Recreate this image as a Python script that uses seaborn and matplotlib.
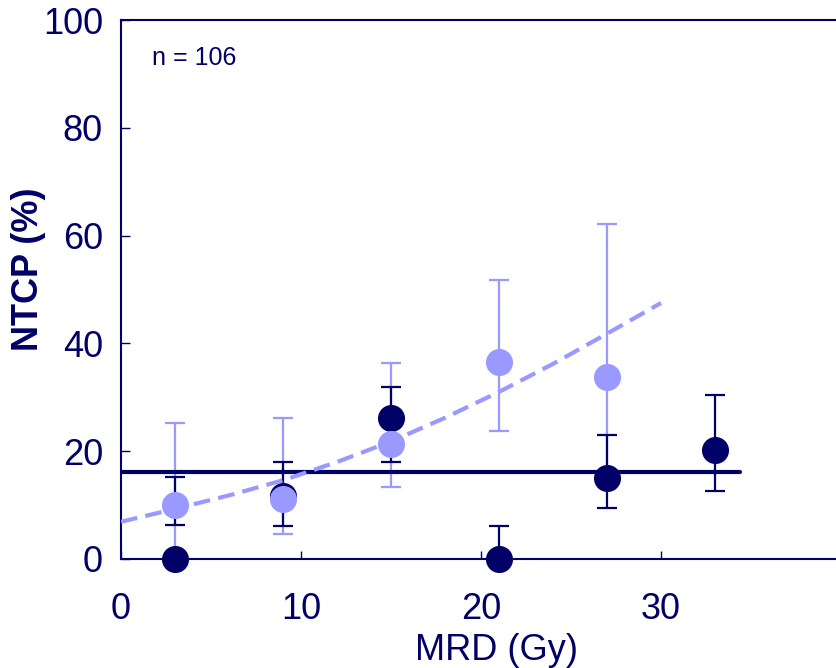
import matplotlib
matplotlib.use("Agg")
import matplotlib.pyplot as plt
import seaborn as sns
import pandas as pd
import numpy as np

# ---- data ----
dark_x = [3, 9, 15, 21, 27, 33]
dark_y = [0.0, 11.6, 26.1, 0.0, 15.0, 20.3]
dark_lo = [6.3, 6.2, 18.0, 0.0, 9.5, 12.7]
dark_hi = [15.3, 18.0, 32.0, 6.2, 23.0, 30.5]

light_x = [3, 9, 15, 21, 27]
light_y = [10.0, 11.1, 21.3, 36.6, 33.8]
light_lo = [1.0, 4.6, 13.4, 23.8, 15.0]
light_hi = [25.2, 26.1, 36.4, 51.8, 62.1]

curve_x = [0, 3, 6, 9, 12, 15, 18, 21, 24, 27, 30]
curve_y = [6.9, 9.3, 11.8, 14.6, 18.0, 21.8, 26.2, 31.0, 36.2, 41.8, 47.5]

flat_x = [0, 34.4]
flat_y = [16.1, 16.1]

x_ticks = [0, 10, 20, 30]
y_ticks = [0, 20, 40, 60, 80, 100]
annotation = "n = 106"
x_label = "MRD (Gy)"
y_label = "NTCP (%)"

DARK = "#000066"
LIGHT = "#9999FF"

sns.set_style("white")
plt.rcParams["font.family"] = ["Liberation Sans", "DejaVu Sans"]

fig = plt.figure(figsize=(8.37, 6.68), dpi=100)
ax = fig.add_axes([121 / 837, (668 - 559) / 668, 720 / 837, 539 / 668])

def draw_err(xs, lo, hi, color, z):
    mid = [(a + b) / 2 for a, b in zip(lo, hi)]
    half = [(b - a) / 2 for a, b in zip(lo, hi)]
    ax.errorbar(xs, mid, yerr=half, fmt="none", ecolor=color, elinewidth=1.6,
                capsize=7, capthick=1.6, zorder=z, clip_on=False)

draw_err(light_x, light_lo, light_hi, LIGHT, 2)
draw_err(dark_x, dark_lo, dark_hi, DARK, 3)

flat_df = pd.DataFrame({"x": flat_x, "y": flat_y})
sns.lineplot(data=flat_df, x="x", y="y", ax=ax, color=DARK, linewidth=3.0, zorder=3.5)

dark_df = pd.DataFrame({"x": dark_x, "y": dark_y})
light_df = pd.DataFrame({"x": light_x, "y": light_y})
sns.scatterplot(data=dark_df, x="x", y="y", ax=ax, color=DARK, s=380, linewidth=0,
                zorder=4, clip_on=False)
sns.scatterplot(data=light_df, x="x", y="y", ax=ax, color=LIGHT, s=380, linewidth=0,
                zorder=5, clip_on=False)

curve_df = pd.DataFrame({"x": curve_x, "y": curve_y})
sns.lineplot(data=curve_df, x="x", y="y", ax=ax, color=LIGHT, linewidth=3.0,
             dashes=False, zorder=6)
ax.lines[-1].set_dashes((4, 2))

ax.set_xlim(0, 40)
ax.set_ylim(0, 100)
ax.set_xticks(x_ticks)
ax.set_yticks(y_ticks)
ax.set_xlabel("")
ax.set_ylabel("")

for s in ax.spines.values():
    s.set_color(DARK)
    s.set_linewidth(1.5)
    s.set_visible(True)

ax.tick_params(axis="both", direction="in", color=DARK, labelcolor=DARK,
               labelsize=26, width=1.0)
ax.tick_params(axis="y", length=6.5, pad=13, left=True)
ax.tick_params(axis="x", length=6, pad=24, bottom=True)

ax.text(0.043, 0.930, annotation, transform=ax.transAxes, fontsize=18,
        color=DARK, ha="left", va="center")

fig.text(497 / 837, 1 - 650 / 668, x_label, fontsize=26, color=DARK,
         ha="center", va="center")
fig.text(29 / 837, 1 - 269 / 668, y_label, fontsize=26, fontweight="bold",
         color=DARK, ha="center", va="center", rotation=90)

fig.savefig("out.png", dpi=100)
